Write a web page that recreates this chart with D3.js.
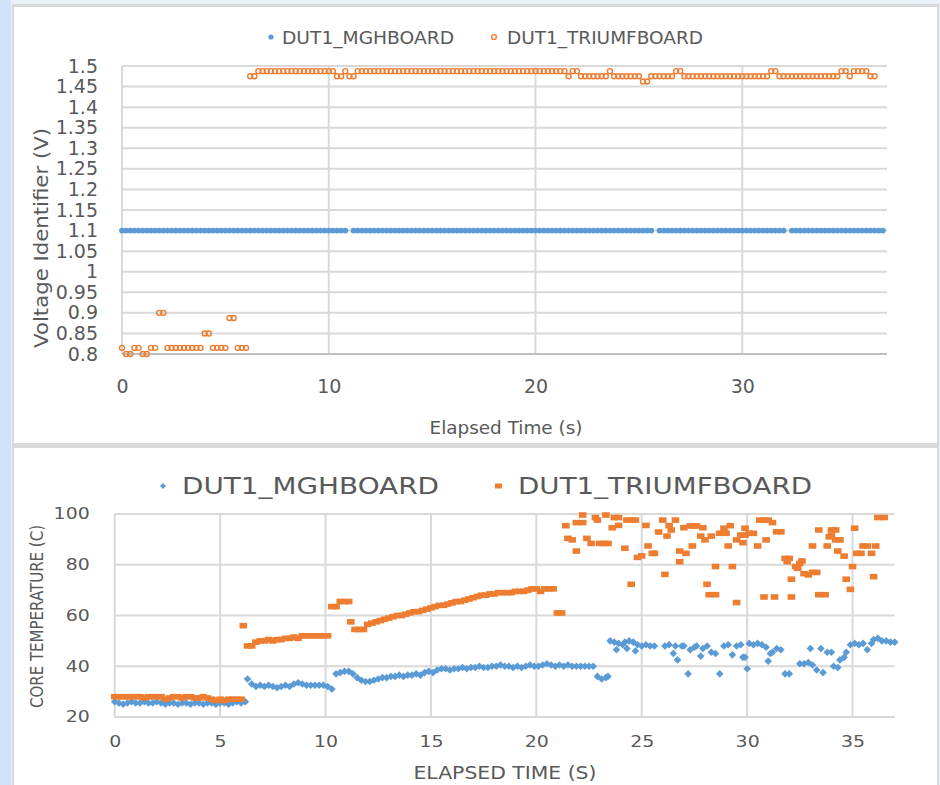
<!DOCTYPE html>
<html>
<head>
<meta charset="utf-8">
<script src="https://cdn.jsdelivr.net/npm/d3@7"></script>
<style>
	body { margin:0; background:#e9f1fb; }
	svg { display:block; }
	text { font-family:"DejaVu Sans", sans-serif; fill:#595959; }
</style>
</head>
<body>
<div id="chart"></div>
<script>

// Data: voltage identifier (top chart), sampled every 0.2 s

var voltTime = [
	0,0.2,0.4,0.6,0.8,1,1.2,1.4,1.6,1.8,
	2,2.2,2.4,2.6,2.8,3,3.2,3.4,3.6,3.8,
	4,4.2,4.4,4.6,4.8,5,5.2,5.4,5.6,5.8,
	6,6.2,6.4,6.6,6.8,7,7.2,7.4,7.6,7.8,
	8,8.2,8.4,8.6,8.8,9,9.2,9.4,9.6,9.8,
	10,10.2,10.4,10.6,10.8,11,11.2,11.4,11.6,11.8,
	12,12.2,12.4,12.6,12.8,13,13.2,13.4,13.6,13.8,
	14,14.2,14.4,14.6,14.8,15,15.2,15.4,15.6,15.8,
	16,16.2,16.4,16.6,16.8,17,17.2,17.4,17.6,17.8,
	18,18.2,18.4,18.6,18.8,19,19.2,19.4,19.6,19.8,
	20,20.2,20.4,20.6,20.8,21,21.2,21.4,21.6,21.8,
	22,22.2,22.4,22.6,22.8,23,23.2,23.4,23.6,23.8,
	24,24.2,24.4,24.6,24.8,25,25.2,25.4,25.6,25.8,
	26,26.2,26.4,26.6,26.8,27,27.2,27.4,27.6,27.8,
	28,28.2,28.4,28.6,28.8,29,29.2,29.4,29.6,29.8,
	30,30.2,30.4,30.6,30.8,31,31.2,31.4,31.6,31.8,
	32,32.2,32.4,32.6,32.8,33,33.2,33.4,33.6,33.8,
	34,34.2,34.4,34.6,34.8,35,35.2,35.4,35.6,35.8,
	36,36.2,36.4,36.6,36.8
];

var voltMgh = [
	1.1,1.1,1.1,1.1,1.1,1.1,1.1,1.1,1.1,1.1,
	1.1,1.1,1.1,1.1,1.1,1.1,1.1,1.1,1.1,1.1,
	1.1,1.1,1.1,1.1,1.1,1.1,1.1,1.1,1.1,1.1,
	1.1,1.1,1.1,1.1,1.1,1.1,1.1,1.1,1.1,1.1,
	1.1,1.1,1.1,1.1,1.1,1.1,1.1,1.1,1.1,1.1,
	1.1,1.1,1.1,1.1,1.1,null,1.1,1.1,1.1,1.1,
	1.1,1.1,1.1,1.1,1.1,1.1,1.1,1.1,1.1,1.1,
	1.1,1.1,1.1,1.1,1.1,1.1,1.1,1.1,1.1,1.1,
	1.1,1.1,1.1,1.1,1.1,1.1,1.1,1.1,1.1,1.1,
	1.1,1.1,1.1,1.1,1.1,1.1,1.1,1.1,1.1,1.1,
	1.1,1.1,1.1,1.1,1.1,1.1,1.1,1.1,1.1,1.1,
	1.1,1.1,1.1,1.1,1.1,1.1,1.1,1.1,1.1,1.1,
	1.1,1.1,1.1,1.1,1.1,1.1,1.1,1.1,1.1,null,
	1.1,1.1,1.1,1.1,1.1,1.1,1.1,1.1,1.1,1.1,
	1.1,1.1,1.1,1.1,1.1,1.1,1.1,1.1,1.1,1.1,
	1.1,1.1,1.1,1.1,1.1,1.1,1.1,1.1,1.1,1.1,
	1.1,null,1.1,1.1,1.1,1.1,1.1,1.1,1.1,1.1,
	1.1,1.1,1.1,1.1,1.1,1.1,1.1,1.1,1.1,1.1,
	1.1,1.1,1.1,1.1,1.1
];

var voltTriumf = [
	0.815,0.8,0.8,0.815,0.815,0.8,0.8,0.815,0.815,0.9,
	0.9,0.815,0.815,0.815,0.815,0.815,0.815,0.815,0.815,0.815,
	0.85,0.85,0.815,0.815,0.815,0.815,0.8875,0.8875,0.815,0.815,
	0.815,1.475,1.475,1.4875,1.4875,1.4875,1.4875,1.4875,1.4875,1.4875,
	1.4875,1.4875,1.4875,1.4875,1.4875,1.4875,1.4875,1.4875,1.4875,1.4875,
	1.4875,1.4875,1.475,1.475,1.4875,1.475,1.475,1.4875,1.4875,1.4875,
	1.4875,1.4875,1.4875,1.4875,1.4875,1.4875,1.4875,1.4875,1.4875,1.4875,
	1.4875,1.4875,1.4875,1.4875,1.4875,1.4875,1.4875,1.4875,1.4875,1.4875,
	1.4875,1.4875,1.4875,1.4875,1.4875,1.4875,1.4875,1.4875,1.4875,1.4875,
	1.4875,1.4875,1.4875,1.4875,1.4875,1.4875,1.4875,1.4875,1.4875,1.4875,
	1.4875,1.4875,1.4875,1.4875,1.4875,1.4875,1.4875,1.4875,1.475,1.4875,
	1.4875,1.475,1.475,1.475,1.475,1.475,1.475,1.475,1.4875,1.475,
	1.475,1.475,1.475,1.475,1.475,1.475,1.4625,1.4625,1.475,1.475,
	1.475,1.475,1.475,1.475,1.4875,1.4875,1.475,1.475,1.475,1.475,
	1.475,1.475,1.475,1.475,1.475,1.475,1.475,1.475,1.475,1.475,
	1.475,1.475,1.475,1.475,1.475,1.475,1.475,1.4875,1.4875,1.475,
	1.475,1.475,1.475,1.475,1.475,1.475,1.475,1.475,1.475,1.475,
	1.475,1.475,1.475,1.475,1.4875,1.4875,1.475,1.4875,1.4875,1.4875,
	1.4875,1.475,1.475,null,null
];

var voltTicks = [0.8,0.85,0.9,0.95,1,1.05,1.1,1.15,1.2,1.25,1.3,1.35,1.4,1.45,1.5];
var voltTickLabels = ["0.8","0.85","0.9","0.95","1","1.05","1.1","1.15","1.2","1.25","1.3","1.35","1.4","1.45","1.5"];
var voltTimeTicks = [0,10,20,30];

// Data: core temperature (bottom chart), [time s, temperature C]

var tempMgh = [
	[0,26],[0.2,25.5],[0.4,25],[0.6,25.5],[0.8,26],[1,25.5],[1.2,25.5],[1.4,26],[1.6,25.5],[1.8,25.5],
	[2,26],[2.2,25.5],[2.4,25],[2.6,25.5],[2.8,25.5],[3,25],[3.2,25.5],[3.4,25.5],[3.6,25],[3.8,25.5],
	[4,25.5],[4.2,25],[4.4,25.5],[4.6,25.5],[4.8,25],[5,25.5],[5.2,25.5],[5.4,25],[5.6,25.5],[5.8,26],
	[6,25.5],[6.2,26],[6.3,35],[6.5,33],[6.7,32],[6.9,32.5],[7.1,32],[7.3,32.5],[7.5,32],[7.7,31.5],
	[7.9,32],[8.1,32.5],[8.3,32],[8.5,33],[8.7,33.5],[8.9,33],[9.1,32.5],[9.3,32.5],[9.5,32.5],[9.7,32.5],
	[9.9,32.5],[10.1,32],[10.3,31],[10.5,37],[10.7,37.5],[10.9,38],[11.1,38],[11.3,37],[11.5,35.5],[11.7,34.5],
	[11.9,34],[12.1,34],[12.3,34.5],[12.5,35],[12.7,35.5],[12.9,35.5],[13.1,36],[13.3,36],[13.5,36.5],[13.7,36],
	[13.9,36.5],[14.1,36.5],[14.3,37],[14.5,36.5],[14.7,37.5],[14.9,38],[15.1,37.5],[15.3,38.5],[15.5,39],[15.7,39],
	[15.9,38.5],[16.1,39],[16.3,39],[16.5,39.5],[16.7,39],[16.9,39.5],[17.1,39.5],[17.3,40],[17.5,39.5],[17.7,39.5],
	[17.9,40],[18.1,40],[18.3,40.5],[18.5,40],[18.7,40],[18.9,39.5],[19.1,40],[19.3,39.5],[19.5,40],[19.7,40.5],
	[19.9,40],[20.1,40],[20.3,40.5],[20.5,41],[20.7,40.5],[20.9,40],[21.1,40.5],[21.3,40],[21.5,40.5],[21.7,40],
	[21.9,40],[22.1,40],[22.3,40],[22.5,40],[22.7,40],[22.9,36],[23.1,35],[23.3,35.5],[23.4,36],
	[23.5,50],[23.7,49.5],[23.8,46.5],[23.9,49],[24.1,48.5],[24.2,49.5],[24.3,47],[24.4,50],[24.6,49.5],[24.7,46],
	[24.8,48.5],[25,48],[25.2,48.5],[25.4,48],[25.6,48],[26.1,48],[26.3,48.5],[26.5,45],[26.6,48],[26.7,42.5],
	[26.9,48],[27,48],[27.2,37],[27.3,46.5],[27.5,47.5],[27.6,48],[27.8,44],[27.9,47],[28.1,48],[28.3,45.5],
	[28.5,45],[28.7,37],[28.9,48],[29.1,48.5],[29.3,44.5],[29.5,48],[29.7,48.5],[29.8,43.5],[29.9,43.5],[30,39],
	[30.1,49],[30.3,48.5],[30.5,49],[30.7,48.5],[30.9,47.5],[31,42],[31.1,45],[31.2,45.5],[31.4,47],[31.6,46.5],
	[31.8,37],[32,37],[32.5,41],[32.7,41],[32.9,41.5],[33,47],[33.1,40.5],[33.3,38.5],[33.5,47],[33.6,37.5],
	[33.8,45.5],[34,45.5],[34.1,40],[34.3,39.5],[34.4,42.5],[34.6,43.5],[34.7,45.5],[34.9,48.5],[35.1,49],[35.3,48.5],
	[35.5,49],[35.7,46.5],[35.9,49],[36,50.5],[36.2,51],[36.4,50],[36.6,50],[36.8,49.5],[37,49.5]
];

var tempTriumf = [
	[0,28],[0.2,28],[0.4,28],[0.6,28],[0.8,28],[1,28],[1.2,28],[1.4,27.5],[1.6,28],[1.8,28],
	[2,28],[2.2,28],[2.4,27],[2.6,27.5],[2.8,28],[3,28],[3.2,27.5],[3.4,28],[3.6,28],[3.8,27.5],
	[4,27.5],[4.2,28],[4.4,27.5],[4.6,27],[4.8,26.5],[5,27],[5.2,26.5],[5.4,27],[5.6,27],[5.8,27],
	[6,27],[6.1,56],[6.3,48],[6.5,48],[6.7,49.5],[6.9,50],[7.1,50],[7.3,50.5],[7.5,50],[7.7,50.5],
	[7.9,50.5],[8.1,51],[8.3,51],[8.5,51.5],[8.7,51],[8.9,52],[9.1,52],[9.3,52],[9.5,52],[9.7,52],
	[9.9,52],[10.1,52],[10.3,63.5],[10.5,63.5],[10.7,65.5],[10.9,65.5],[11.1,65.5],[11.2,57.5],[11.4,54.5],[11.6,54.5],
	[11.8,54.5],[12,56.5],[12.2,57],[12.4,57.5],[12.6,58],[12.8,58.5],[13,59],[13.2,59.5],[13.4,60],[13.6,60],
	[13.8,60.5],[14,61],[14.2,61.5],[14.4,61.5],[14.6,62],[14.8,62.5],[15,63],[15.2,63.5],[15.4,64],[15.6,64],
	[15.8,64.5],[16,65],[16.2,65.5],[16.4,65.5],[16.6,66],[16.8,66.5],[17,67],[17.2,67.5],[17.4,68],[17.6,68],
	[17.8,68.5],[18,68.5],[18.2,69],[18.4,69],[18.6,69],[18.8,69],[19,69.5],[19.2,69.5],[19.4,69.5],[19.6,70],
	[19.8,70.5],[20,70.5],[20.2,69.5],[20.4,70.5],[20.6,70.5],[20.8,70.5],[21,61],[21.2,61],
	[21.4,95.4],[21.5,90.4],[21.7,89.8],[21.9,85.4],[21.9,96.6],[22.2,96.6],[22.2,99.6],[22.4,90.4],[22.6,88.4],[22.8,98.6],
	[22.9,97.6],[23,88.4],[23.2,88.4],[23.4,88.4],[23.3,99.6],[23.6,94.6],[23.7,98.6],[23.9,98.6],[23.9,95.5],[24.2,86.5],
	[24.3,97.6],[24.5,97.6],[24.7,97.6],[24.5,72.3],[24.8,82.9],[25,83.5],[25.2,95.5],[25.3,87.4],[25.5,84.5],[25.6,84.5],
	[25.8,92.9],[26,97.6],[26.1,76.2],[26.2,91.3],[26.3,95.4],[26.4,93.7],[26.6,97.6],[26.8,85.4],[26.8,81.2],[27,94.6],
	[27.1,84.5],[27.3,95.3],[27.5,95.3],[27.6,95.3],[27.4,87.4],[27.8,91.3],[27.9,94.6],[28,89.8],[28.1,72.3],[28.2,68.2],
	[28.5,68.2],[28.3,91.3],[28.5,79.3],[28.7,92.4],[28.9,94.4],[29,92.4],[29.1,87.4],[29.2,95.4],[29.3,79.3],[29.5,65.1],
	[29.5,89.8],[29.7,91.7],[29.9,91.7],[29.8,88.7],[29.9,94.4],[30.1,92.4],[30.3,92.4],[30.5,87.4],[30.6,97.6],[30.8,97.6],
	[31,97.6],[30.8,67.3],[30.9,89.8],[31.2,96.6],[31.3,67.3],[31.4,93],[31.6,93],[31.8,82.5],[32,82.5],[31.9,81.2],
	[32.1,74.3],[32.1,67.3],[32.3,79.3],[32.5,80.5],[32.6,81.5],[32.4,78.6],[32.7,76.5],[32.9,76],[33.1,77],[33.3,77],
	[33.1,87.4],[33.4,93.7],[33.4,68.2],[33.7,68.2],[33.8,87.4],[33.9,91],[34,91.5],[34,93.7],[34.2,93.7],[34.2,89.8],
	[34.4,89.8],[34.3,85.4],[34.6,83.4],[34.7,74.3],[34.9,70.3],[35,79.3],[35.1,94.4],[35.2,84.5],[35.4,84.5],[35.5,87.4],
	[35.7,87.4],[35.9,84.5],[36,75.3],[36.1,87.4],[36.2,98.6],[36.5,98.6]
];

var tempTicks = [20,40,60,80,100];
var tempTimeTicks = [0,5,10,15,20,25,30,35];

var seriesNames = ["DUT1_MGHBOARD","DUT1_TRIUMFBOARD"];

var blue = "#5b9bd5",
	orange = "#ed7d31",
	grid = "#d9d9d9";

// helpers

function fitText(sel, w){
	sel.attr("textLength", w).attr("lengthAdjust", "spacingAndGlyphs");
}

function stretchText(sel, k){
	sel.each(function(){
		var w = this.getComputedTextLength();
		d3.select(this).attr("textLength", w*k).attr("lengthAdjust", "spacingAndGlyphs");
	});
}

// Frame

var svg = d3.select("#chart").append("svg")
	.attr("width", 940)
	.attr("height", 785);

svg.append("rect").attr("width", 940).attr("height", 785).attr("fill", "#e9f1fb");
svg.append("rect").attr("x", 0).attr("y", 0).attr("width", 11).attr("height", 785).attr("fill", "#d0e3fa");
svg.append("rect").attr("x", 12).attr("y", 4).attr("width", 927).attr("height", 781).attr("fill", "#d9d9d9");
svg.append("rect").attr("x", 14).attr("y", 7).attr("width", 923).attr("height", 436).attr("fill", "white");
svg.append("rect").attr("x", 14).attr("y", 448).attr("width", 923).attr("height", 340).attr("fill", "white");

// Top chart: voltage identifier

var xV = d3.scaleLinear().domain([0, 37]).range([122, 887]),
	yV = d3.scaleLinear().domain([0.8, 1.5]).range([354, 66]);

var topG = svg.append("g");

topG.selectAll(".hgrid").data(voltTicks.slice(1)).enter().append("line")
	.attr("x1", xV(0)).attr("x2", xV(37))
	.attr("y1", function(d){return yV(d)}).attr("y2", function(d){return yV(d)})
	.style("stroke", grid).style("stroke-width", 2);

topG.selectAll(".vgrid").data(voltTimeTicks).enter().append("line")
	.attr("x1", function(d){return xV(d)}).attr("x2", function(d){return xV(d)})
	.attr("y1", yV(1.5)).attr("y2", yV(0.8))
	.style("stroke", grid).style("stroke-width", 2);

topG.append("line")
	.attr("x1", xV(0)).attr("x2", xV(37)).attr("y1", yV(0.8)).attr("y2", yV(0.8))
	.style("stroke", "#bfbfbf").style("stroke-width", 2);

var yAxisV = topG.append("g")
	.attr("transform", "translate(" + xV(0) + ",0)")
	.call(d3.axisLeft(yV).tickValues(voltTicks).tickSize(0).tickPadding(24)
		.tickFormat(function(d, i){return voltTickLabels[i]}));
yAxisV.select(".domain").remove();
yAxisV.selectAll("text").style("font-size", "19px").style("font-family", "DejaVu Sans").attr("fill", "#595959");

var xAxisV = topG.append("g")
	.attr("transform", "translate(0," + yV(0.8) + ")")
	.call(d3.axisBottom(xV).tickValues(voltTimeTicks).tickSize(0).tickPadding(26).tickFormat(d3.format("d")));
xAxisV.select(".domain").remove();
xAxisV.selectAll("text").style("font-size", "19px").style("font-family", "DejaVu Sans").attr("fill", "#595959");

var voltMghPts = voltTime.map(function(t, i){return {t:t, v:voltMgh[i]}}).filter(function(d){return d.v != null});
var voltTriumfPts = voltTime.map(function(t, i){return {t:t, v:voltTriumf[i]}}).filter(function(d){return d.v != null});

topG.selectAll(".mgh").data(voltMghPts).enter().append("circle")
	.attr("cx", function(d){return xV(d.t)})
	.attr("cy", function(d){return yV(d.v)})
	.attr("r", 2.9)
	.style("fill", blue);

topG.selectAll(".triumf").data(voltTriumfPts).enter().append("circle")
	.attr("cx", function(d){return xV(d.t)})
	.attr("cy", function(d){return yV(d.v)})
	.attr("r", 2.5)
	.style("fill", "none").style("stroke", orange).style("stroke-width", 1.4);

topG.append("text").attr("transform", "translate(40.5,238)rotate(-90)")
	.attr("text-anchor", "middle").attr("dy", "0.35em")
	.style("font-size", "20px")
	.text("Voltage Identifier (V)")
	.call(fitText, 220);

topG.append("text").attr("x", 506).attr("y", 434)
	.attr("text-anchor", "middle")
	.style("font-size", "17px")
	.text("Elapsed Time (s)")
	.call(fitText, 153);

// legend
topG.append("circle").attr("cx", 271).attr("cy", 37).attr("r", 2.6).style("fill", blue);
topG.append("text").attr("x", 282).attr("y", 44).style("font-size", "18.5px").text(seriesNames[0]).call(fitText, 172);
topG.append("circle").attr("cx", 494).attr("cy", 37).attr("r", 2.4)
	.style("fill", "none").style("stroke", orange).style("stroke-width", 1.4);
topG.append("text").attr("x", 507).attr("y", 44).style("font-size", "18.5px").text(seriesNames[1]).call(fitText, 196);

// Bottom chart: core temperature

var xT = d3.scaleLinear().domain([0, 37]).range([114.7, 894.7]),
	yT = d3.scaleLinear().domain([20, 100]).range([717, 514]);

var botG = svg.append("g");

botG.selectAll(".hgrid").data(tempTicks).enter().append("line")
	.attr("x1", xT(0)).attr("x2", xT(37))
	.attr("y1", function(d){return yT(d)}).attr("y2", function(d){return yT(d)})
	.style("stroke", grid).style("stroke-width", 2);

botG.selectAll(".vgrid").data(tempTimeTicks).enter().append("line")
	.attr("x1", function(d){return xT(d)}).attr("x2", function(d){return xT(d)})
	.attr("y1", yT(100)).attr("y2", yT(20))
	.style("stroke", grid).style("stroke-width", 2);

var yAxisT = botG.append("g")
	.attr("transform", "translate(" + xT(0) + ",0)")
	.call(d3.axisLeft(yT).tickValues(tempTicks).tickSize(0).tickPadding(25).tickFormat(d3.format("d")));
yAxisT.select(".domain").remove();
yAxisT.selectAll("text").style("font-size", "15.5px").style("font-family", "DejaVu Sans").attr("fill", "#595959")
	.call(stretchText, 1.22);

var xAxisT = botG.append("g")
	.attr("transform", "translate(0," + yT(20) + ")")
	.call(d3.axisBottom(xT).tickValues(tempTimeTicks).tickSize(0).tickPadding(19).tickFormat(d3.format("d")));
xAxisT.select(".domain").remove();
xAxisT.selectAll("text").style("font-size", "15.5px").style("font-family", "DejaVu Sans").attr("fill", "#595959")
	.call(stretchText, 1.22);

var diamond = "M0,-3.8L3.8,0L0,3.8L-3.8,0Z";

botG.selectAll(".mgh").data(tempMgh).enter().append("path")
	.attr("d", diamond)
	.attr("transform", function(d){return "translate(" + xT(d[0]) + "," + yT(d[1]) + ")"})
	.style("fill", blue);

botG.selectAll(".triumf").data(tempTriumf).enter().append("rect")
	.attr("x", function(d){return xT(d[0]) - 3.8})
	.attr("y", function(d){return yT(d[1]) - 2.8})
	.attr("width", 7.6).attr("height", 5.6)
	.style("fill", orange);

botG.append("text").attr("transform", "translate(36.5,616.5)rotate(-90)")
	.attr("text-anchor", "middle").attr("dy", "0.35em")
	.style("font-size", "18px")
	.text("CORE TEMPERATURE (C)")
	.call(fitText, 183);

botG.append("text").attr("x", 505).attr("y", 779)
	.attr("text-anchor", "middle")
	.style("font-size", "17px")
	.text("ELAPSED TIME (S)")
	.call(fitText, 183);

// legend
botG.append("path").attr("d", "M0,-3L3,0L0,3L-3,0Z").attr("transform", "translate(163,486)").style("fill", blue);
botG.append("text").attr("x", 182).attr("y", 494).style("font-size", "23px").text(seriesNames[0]).call(fitText, 257);
botG.append("rect").attr("x", 495).attr("y", 483.5).attr("width", 7).attr("height", 5).style("fill", orange);
botG.append("text").attr("x", 518).attr("y", 494).style("font-size", "23px").text(seriesNames[1]).call(fitText, 294);

</script>
</body>
</html>
